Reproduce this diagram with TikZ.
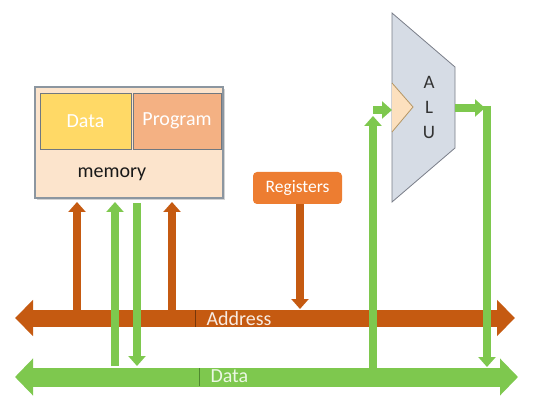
\documentclass[tikz,border=0pt]{standalone}
\usepackage{fontspec}
\setmainfont{Carlito}
\usetikzlibrary{arrows.meta,shadows}
\definecolor{busO}{RGB}{197,90,17}
\definecolor{busG}{RGB}{126,200,78}
\definecolor{busGd}{RGB}{100,170,60}
\definecolor{memBG}{RGB}{252,228,204}
\definecolor{dataY}{RGB}{255,217,102}
\definecolor{progO}{RGB}{244,177,131}
\definecolor{regO}{RGB}{237,125,49}
\definecolor{aluF}{RGB}{214,220,229}
\definecolor{aluB}{RGB}{120,124,135}
\definecolor{triF}{RGB}{252,224,190}
\definecolor{triB}{RGB}{180,150,100}
\definecolor{boxB}{RGB}{140,150,160}
\tikzset{
  txt/.style={font=\fontsize{20}{24}\selectfont},
  membox/.style={draw=boxB, line width=1.2pt, fill=memBG, minimum width=188pt, minimum height=111pt, inner sep=0pt,
    drop shadow={shadow xshift=2pt, shadow yshift=-2pt, opacity=0.35}},
  subbox/.style={draw=boxB!80!black, line width=0.6pt, minimum height=56pt, inner sep=0pt, text=white, txt},
  regbox/.style={fill=regO, rounded corners=4pt, minimum width=89pt, minimum height=32pt, inner sep=0pt, text=white,
    font=\fontsize{17.5}{20}\selectfont},
  vbarO/.style={draw=busO, line width=8pt, -{Triangle[width=17pt,length=10pt]}},
  vbarG/.style={draw=busG, line width=8pt, -{Triangle[width=17pt,length=10pt]}},
  busAd/.style={draw=busO, line width=17pt, {Triangle[width=35pt,length=18pt]}-{Triangle[width=35pt,length=18pt]}},
  busDa/.style={draw=busG, line width=19pt, {Triangle[width=36pt,length=18pt]}-{Triangle[width=36pt,length=18pt]}},
  alulet/.style={font=\fontsize{19}{22}\selectfont, text=black!80},
}
\begin{document}
\begin{tikzpicture}[x=1pt,y=-1pt]
\useasboundingbox (0,0) rectangle (541,406);
% memory
\node[membox] (mem) at (129,142.5) {};
\node[subbox, fill=dataY, minimum width=91pt] (data) at (85.5,121) {Data};
\node[subbox, fill=progO, minimum width=88pt] (prog) at (177,121) {Program};
\node[txt, text=black!90] (memlbl) at (112,174) {memory};
% registers
\node[regbox] (reg) at (297.5,188) {Registers};
% ALU
\draw[fill=aluF, draw=aluB, line width=0.8pt] (392,13) -- (455,67) -- (455,148) -- (392,202) -- cycle;
\draw[fill=triF, draw=triB, line width=0.8pt] (392,83) -- (413,107) -- (392,132);
\node[alulet] (la) at (429,82) {A};
\node[alulet] (ll) at (429,107) {L};
\node[alulet] (lu) at (429,132) {U};
\coordinate (aluin) at (392,110);
\coordinate (aluout) at (455,108);
% coordinates
\coordinate (adL) at (15,318);
\coordinate (adR) at (515,318);
\coordinate (daL) at (15,377);
\coordinate (daR) at (518,377);
\coordinate (o1b) at (77,312);
\coordinate (o1t) at (77,202);
\coordinate (o2b) at (172,312);
\coordinate (o2t) at (172,202);
\coordinate (g1b) at (115,366);
\coordinate (g1t) at (115,202);
\coordinate (g2t) at (137,203);
\coordinate (g2b) at (137,366);
\coordinate (rb) at (300,309);
\coordinate (ib) at (373,368);
\coordinate (it) at (373,116);
\coordinate (ih) at (373,110);
\coordinate (oh) at (485,108);
\coordinate (ot) at (487,106);
\coordinate (ob) at (487,367);
% address bus
\draw[busAd] (adL) -- (adR);
\draw[black!40!busO, line width=1pt] (195,310) -- (195,327);
\node[txt, text=white!88!busO, anchor=base west] (adlbl) at (203,325.5) {Address};
% vertical arrows
\draw[vbarO] (o1b) -- (o1t);
\draw[vbarO] (o2b) -- (o2t);
\draw[vbarO] (reg.south -| rb) -- (rb);
\draw[vbarG] (g1b) -- (g1t);
\draw[vbarG] (g2t) -- (g2b);
\draw[vbarG] (ib) -- (it);
\draw[vbarG] (ih) -- (aluin);
\draw[vbarG] (aluout) -- (oh);
\draw[draw=busG, line width=8pt, -{Triangle[width=17pt,length=10pt]}] (ot) -- (ob);
% data bus
\draw[busDa] (daL) -- (daR);
\draw[busGd!80!black, line width=1pt] (199,368) -- (199,386);
\node[txt, text=white!85!busG, anchor=base west] (dalbl) at (207,382) {Data};
\end{tikzpicture}
\end{document}
